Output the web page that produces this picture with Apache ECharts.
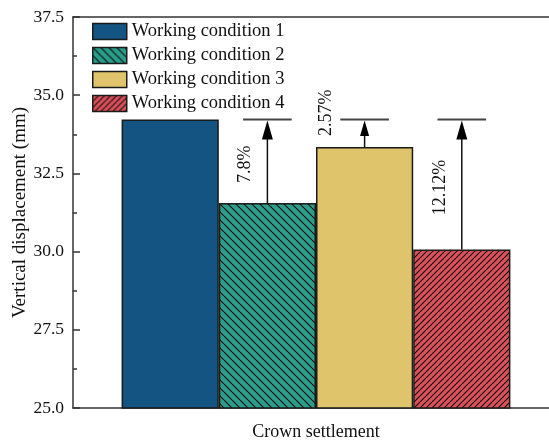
<!DOCTYPE html>
<html>
<head>
<meta charset="utf-8">
<script src="https://cdn.jsdelivr.net/npm/echarts@6/dist/echarts.min.js"></script>
<style>html,body{margin:0;padding:0;background:#fff;}#c{width:549px;height:441px;}</style>
</head>
<body>
<div id="c"></div>
<script>
// ---- data ----
const categories = ['Crown settlement'];
const seriesNames = ['Working condition 1', 'Working condition 2', 'Working condition 3', 'Working condition 4'];
const values = [34.22, 31.55, 33.34, 30.07];
const reductionLabels = ['', '7.8%', '2.57%', '12.12%'];
const yMin = 25, yMax = 37.5, yInterval = 2.5;

// ---- styles ----
const FONT = '"Liberation Serif", "Times New Roman", serif';
const baseColors = ['#135482', '#2a9d8b', '#e0c46c', '#df505b'];
const hatch = [null, 'back', null, 'fwd'];
const hatchPeriod = [0, 8, 0, 6];

function makePattern(bg, dir, p) {
  const c = document.createElement('canvas');
  c.width = p; c.height = p;
  const g = c.getContext('2d');
  g.fillStyle = bg; g.fillRect(0, 0, p, p);
  g.strokeStyle = '#111'; g.lineWidth = 1.2;
  for (let k = -1; k <= 1; k++) {
    g.beginPath();
    if (dir === 'back') { g.moveTo(k * p, 0); g.lineTo(k * p + p, p); }
    else { g.moveTo(k * p, p); g.lineTo(k * p + p, 0); }
    g.stroke();
  }
  return { image: c, repeat: 'repeat' };
}

const measureCtx = document.createElement('canvas').getContext('2d');
measureCtx.font = '18px ' + FONT;

const chart = echarts.init(document.getElementById('c'), null, { renderer: 'canvas' });
const BAR_GAP_FRAC = 0.2;

const barSeries = seriesNames.map((name, i) => ({
  type: 'bar',
  name: name,
  data: [values[i]],
  barGap: '0%',
  barCategoryGap: (BAR_GAP_FRAC * 100) + '%',
  itemStyle: {
    color: hatch[i] ? makePattern(baseColors[i], hatch[i], hatchPeriod[i]) : baseColors[i],
    borderColor: '#1a1a1a',
    borderWidth: 1.5
  }
}));

const annotData = values.slice(1).map(v => [0, v, values[0]]);

function renderItem(params, api) {
  const n = seriesNames.length;
  const i = params.dataIndex + 1;
  const topP = api.coord([api.value(0), api.value(2)]);
  const botP = api.coord([api.value(0), api.value(1)]);
  const band = api.size([1, 0])[0];
  const barW = band * (1 - BAR_GAP_FRAC) / n;
  const cx = topP[0] + (i - (n - 1) / 2) * barW;
  const yTop = topP[1], yBot = botP[1];
  const len = yBot - yTop;
  const headH = Math.min(20, len * 0.6);
  const headW = Math.max(7, headH * 0.55);
  const txt = reductionLabels[i];
  const tLen = measureCtx.measureText(txt).width;
  let text;
  if (len > tLen + 20) {
    text = { type: 'text', x: cx - 22, y: (yTop + yBot) / 2 + 3, rotation: Math.PI / 2,
      style: { text: txt, font: '18px ' + FONT, fill: '#111', align: 'center', verticalAlign: 'middle' } };
  } else {
    text = { type: 'text', x: cx - 38, y: yBot - 11, rotation: Math.PI / 2,
      style: { text: txt, font: '18px ' + FONT, fill: '#111', align: 'left', verticalAlign: 'middle' } };
  }
  return {
    type: 'group',
    children: [
      { type: 'line', shape: { x1: cx - barW / 4, y1: yTop, x2: cx + barW / 4, y2: yTop }, style: { stroke: '#444', lineWidth: 2 } },
      { type: 'line', shape: { x1: cx, y1: yBot, x2: cx, y2: yTop + headH - 1 }, style: { stroke: '#111', lineWidth: 1.5 } },
      { type: 'polygon', shape: { points: [[cx, yTop + 1], [cx - headW / 2, yTop + headH], [cx + headW / 2, yTop + headH]] }, style: { fill: '#000' } },
      text
    ]
  };
}

const option = {
  animation: false,
  backgroundColor: '#fff',
  textStyle: { fontFamily: FONT },
  grid: { left: 73, right: -10, top: 17, bottom: 33, containLabel: false, outerBoundsMode: 'none' },
  legend: {
    data: seriesNames,
    orient: 'vertical',
    left: 87, top: 17,
    icon: 'rect',
    itemWidth: 34, itemHeight: 16, itemGap: 5,
    textStyle: { fontSize: 18.5, fontFamily: FONT, color: '#111', lineHeight: 18 },
    itemStyle: { borderColor: '#1a1a1a', borderWidth: 1.5 }
  },
  xAxis: [
    {
      type: 'category', data: categories,
      axisTick: { show: false },
      axisLine: { lineStyle: { color: '#333', width: 1.5 } },
      axisLabel: { fontSize: 18, color: '#111', margin: 15, fontFamily: FONT }
    },
    {
      type: 'category', data: categories, position: 'top',
      axisTick: { show: false }, axisLabel: { show: false },
      axisLine: { lineStyle: { color: '#333', width: 1.5 } }
    }
  ],
  yAxis: {
    type: 'value', min: yMin, max: yMax, interval: yInterval,
    name: 'Vertical displacement (mm)', nameLocation: 'middle', nameGap: 43, nameMoveOverlap: false,
    nameTextStyle: { fontSize: 19, color: '#111', fontFamily: FONT },
    axisLine: { show: true, lineStyle: { color: '#333', width: 1.5 } },
    axisTick: { show: true, inside: true, length: 7, lineStyle: { color: '#333', width: 1.5 } },
    minorTick: { show: true, splitNumber: 2, length: 4, lineStyle: { color: '#333', width: 1.5 } },
    splitLine: { show: false },
    axisLabel: { fontSize: 17.5, color: '#111', margin: 9, fontFamily: FONT, formatter: v => v.toFixed(1) }
  },
  series: barSeries.concat([{
    type: 'custom', renderItem: renderItem, data: annotData, z: 10, silent: true, clip: false
  }])
};
chart.setOption(option);
</script>
</body>
</html>
